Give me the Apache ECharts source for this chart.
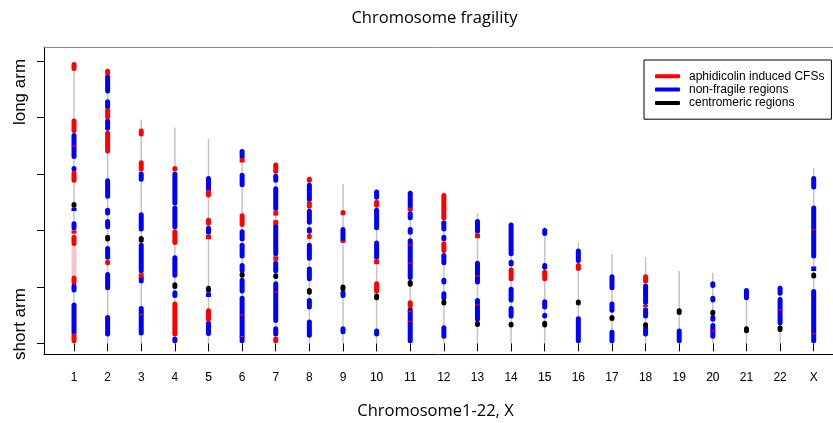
<!DOCTYPE html>
<html>
<head>
<meta charset="utf-8">
<script src="https://cdn.jsdelivr.net/npm/echarts@6/dist/echarts.min.js"></script>
<style>html,body{margin:0;padding:0;background:#fff}#c{width:833px;height:423px}</style>
</head>
<body>
<div id="c"></div>
<script>
// ---------- data ----------
const chromosomes = ['1','2','3','4','5','6','7','8','9','10','11','12','13','14','15','16','17','18','19','20','21','22','X'];
const darkerTickLabels = ['5', '10', '15', '20'];
const yTicks = [0, 50, 100, 150, 200, 250];
// chromosome lengths (Mb)
const chromLengths = [249, 243, 198, 191, 181, 172, 160, 147.5, 141, 136, 135.5, 133.5, 115, 107, 103, 89, 79, 76.5, 64, 62.5, 48.5, 51.5, 155];
// [chromosome index, start Mb, end Mb]
const nonFragile = [
  [0,163,186],[0,152,157],[0,117,120],[0,100,108],[0,45,53],[0,7,36],
  [1,221,238],[1,207,216],[1,188,199],[1,128,146],[1,113,120],[1,101,110],[1,74,86],[1,47,63],[1,6,25],
  [2,143,152],[2,99,116],[2,62,89],[2,53,60],[2,7,33],
  [3,122,152],[3,101,122],[3,58,78],[3,40,47],[3,0,6],
  [4,134,148],[4,96,104],[4,41,45],[4,6.5,20],
  [5,163,172],[5,138,151],[5,90,101],[5,75,89],[5,62,71],[5,44,58],[5,0,42],
  [6,142,150],[6,117,139],[6,77,106],[6,62,73],[6,18,55],[6,6,15],
  [7,125,142],[7,105,119],[7,97,103],[7,73,89],[7,55,68],[7,30,40],[7,5,21],
  [8,89,103],[8,40,47],[8,8,15],
  [9,127,136],[9,100,120],[9,74,91],[9,6,13],
  [10,118,135],[10,109,117],[10,96,103],[10,56,93],[10,0,32],
  [11,99,109],[11,90,96],[11,69,80],[11,52,58],[11,38,46],[11,4,16],
  [12,97,110],[12,52,73],[12,19,40],
  [13,77,107],[13,68,74],[13,36,50],[13,22,33],
  [14,95,102],[14,65,71],[14,30,39],[14,22,27],
  [15,71,84],[15,0,24],
  [16,47,61],[16,27,37],[16,0,12],
  [17,34,53],[17,22,32],[17,6,15],
  [18,0,13],
  [19,49,55],[19,36,42],[19,19,25],[19,4,18],
  [20,38,49],
  [21,42,51],[21,16,41],
  [22,136,148],[22,75,122],[22,64,68],[22,0,48]
];
const fragile = [
  [0,241,249],[0,186,199],[0,174,175],[0,142,153],[0,97,100],[0,86,96],[0,52,60],[0,0,9],
  [1,237,243],[1,198,208],[1,168,188],[1,69,74],
  [2,183,190],[2,152,162],[2,58,62],[2,25,26],
  [3,152,157],[3,87,101],[3,6,37],
  [4,129,136],[4,104,111],[4,92,96],[4,19,31],
  [5,160,164],[5,103,115],[5,24.5,25.5],[5,5.5,6.5],
  [6,150,160],[6,113,117],[6,105,109],[6,73,77],[6,45,46],[6,0,6],
  [7,142,147.5],[7,119,126],[7,92,97],
  [8,113,118],[8,89,91],
  [9,120,127],[9,70,74],[9,44,55],
  [10,117,120],[10,86.5,87.5],[10,70.5,71.5],[10,31,38],[10,27.5,28.5],[10,19,20],
  [11,109,133],[11,80,90],
  [12,93,97],[12,59,60],[12,33.5,34.5],
  [13,55,67],
  [14,55,65],
  [15,64,71],
  [17,53,61],[17,32,34],
  [19,10.5,11.5],
  [21,29,30],
  [22,100,101],[22,8,9]
];
const centromeric = [
  [0,120,125],[1,90,96],[2,89,95],[3,48,54],[4,45,51],[5,58,63],[6,57,62],[7,43,49],
  [8,46,52],[9,38,44],[10,50,56],[11,34,38],[12,15,19],[13,14,19],[14,14,20],[15,34,38],
  [16,21,24],[17,14,18],[18,25,31],[19,25,29],[20,9,15],[21,10,16],[22,58,62]
];
const pinkRegions = [[0,59,86]];
const chromLines = chromLengths.map((len, i) => [i, 0, len]);

// ---------- rendering ----------
// mode: 'flat' = plain butt line; 'round' = round ends, very short ones stay thin;
// 'dot' = round ends, very short ones drawn as a dot
function segRender(lw, color, mode) {
  return function (params, api) {
    const x = api.value(0), s = api.value(1), e = api.value(2);
    const p1 = api.coord([x, s]);
    const p2 = api.coord([x, e]);
    let y1 = p1[1], y2 = p2[1];
    let cap = 'butt';
    if (mode !== 'flat') {
      if ((y1 - y2) > lw) { y1 -= lw / 2; y2 += lw / 2; cap = 'round'; }
      else if (mode === 'dot') { const m = (y1 + y2) / 2; y1 = m + 0.5; y2 = m - 0.5; cap = 'round'; }
    }
    return {
      type: 'line',
      shape: { x1: p1[0], y1: y1, x2: p1[0], y2: y2 },
      style: { stroke: color, lineWidth: lw, lineCap: cap, fill: null },
      silent: true
    };
  };
}
function segSeries(name, data, lw, color, mode) {
  return {
    name: name, type: 'custom', data: data,
    xAxisIndex: 0, yAxisIndex: 0,
    encode: { x: 0, y: [1, 2] },
    itemStyle: { color: color },
    clip: false,
    renderItem: segRender(lw, color, mode)
  };
}

const chart = echarts.init(document.getElementById('c'), null, { renderer: 'canvas' });
const option = {
  animation: false,
  backgroundColor: '#fff',
  grid: [
    { left: 74, right: 19.3, top: 60.8, bottom: 79.7 },
    { left: 44, right: 0, top: 47, bottom: 69 }
  ],
  xAxis: [
    { type: 'category', gridIndex: 0, data: chromosomes, boundaryGap: false, offset: 10.7,
      axisLine: { show: false },
      axisTick: { show: true, length: 8, lineStyle: { color: '#000', width: 1 } },
      axisLabel: { margin: 18, color: '#000', fontFamily: 'Liberation Sans', fontSize: 12, interval: 0,
        formatter: v => darkerTickLabels.includes(v) ? '{d|' + v + '}' : v,
        rich: { d: { color: '#000', fontFamily: 'Liberation Sans', fontSize: 12, textBorderColor: '#000', textBorderWidth: 0.12 } } },
      splitLine: { show: false } },
    { type: 'value', gridIndex: 1, min: 0, max: 1, position: 'bottom',
      axisLine: { show: true, lineStyle: { color: '#000', width: 1 } },
      axisTick: { show: false }, axisLabel: { show: false }, splitLine: { show: false } },
    { type: 'value', gridIndex: 1, min: 0, max: 1, position: 'top',
      axisLine: { show: true, lineStyle: { color: '#888', width: 1 } },
      axisTick: { show: false }, axisLabel: { show: false }, splitLine: { show: false } }
  ],
  yAxis: [
    { type: 'value', gridIndex: 0, min: yTicks[0], max: yTicks[yTicks.length - 1], interval: 50, offset: 30,
      axisLine: { show: false },
      axisTick: { show: true, length: 7, lineStyle: { color: '#000', width: 1 } },
      axisLabel: { show: false }, splitLine: { show: false } },
    { type: 'value', gridIndex: 1, min: 0, max: 1,
      axisLine: { show: true, lineStyle: { color: '#000', width: 1 } },
      axisTick: { show: false }, axisLabel: { show: false }, splitLine: { show: false } }
  ],
  legend: {
    orient: 'vertical', left: 644, top: 60,
    padding: [9.5, 7, 9.5, 11],
    itemWidth: 25, itemHeight: 4, itemGap: 0,
    borderColor: '#000', borderWidth: 1, borderRadius: 0,
    icon: 'roundRect',
    selectedMode: false,
    textStyle: { fontFamily: 'Liberation Sans', fontSize: 12, color: '#000', lineHeight: 13.4, padding: [0, 0, 0, 4] },
    data: ['aphidicolin induced CFSs', 'non-fragile regions', 'centromeric regions']
  },
  graphic: [
    { type: 'text', x: 434.5, y: 18, style: { text: 'Chromosome fragility', textAlign: 'center', textVerticalAlign: 'middle', font: '16.5px "Open Sans"', fill: '#000' } },
    { type: 'text', x: 435.5, y: 411, style: { text: 'Chromosome1-22, X', textAlign: 'center', textVerticalAlign: 'middle', font: '16.5px "Open Sans"', fill: '#000' } },
    { type: 'text', x: 20, y: 92, rotation: Math.PI / 2, style: { text: 'long arm', textAlign: 'center', textVerticalAlign: 'middle', font: '17px "Liberation Sans"', fill: '#000' } },
    { type: 'text', x: 20, y: 324, rotation: Math.PI / 2, style: { text: 'short arm', textAlign: 'center', textVerticalAlign: 'middle', font: '17px "Liberation Sans"', fill: '#000' } }
  ],
  series: [
    segSeries('chromosome', chromLines, 1.5, '#c4c4c4', 'flat'),
    segSeries('pink', pinkRegions, 5, '#ffc0cb', 'round'),
    segSeries('non-fragile regions', nonFragile, 5, '#0000ff', 'round'),
    segSeries('aphidicolin induced CFSs', fragile, 5, '#ff0000', 'round'),
    segSeries('centromeric regions', centromeric, 5, '#000000', 'dot')
  ]
};
chart.setOption(option);
</script>
</body>
</html>
